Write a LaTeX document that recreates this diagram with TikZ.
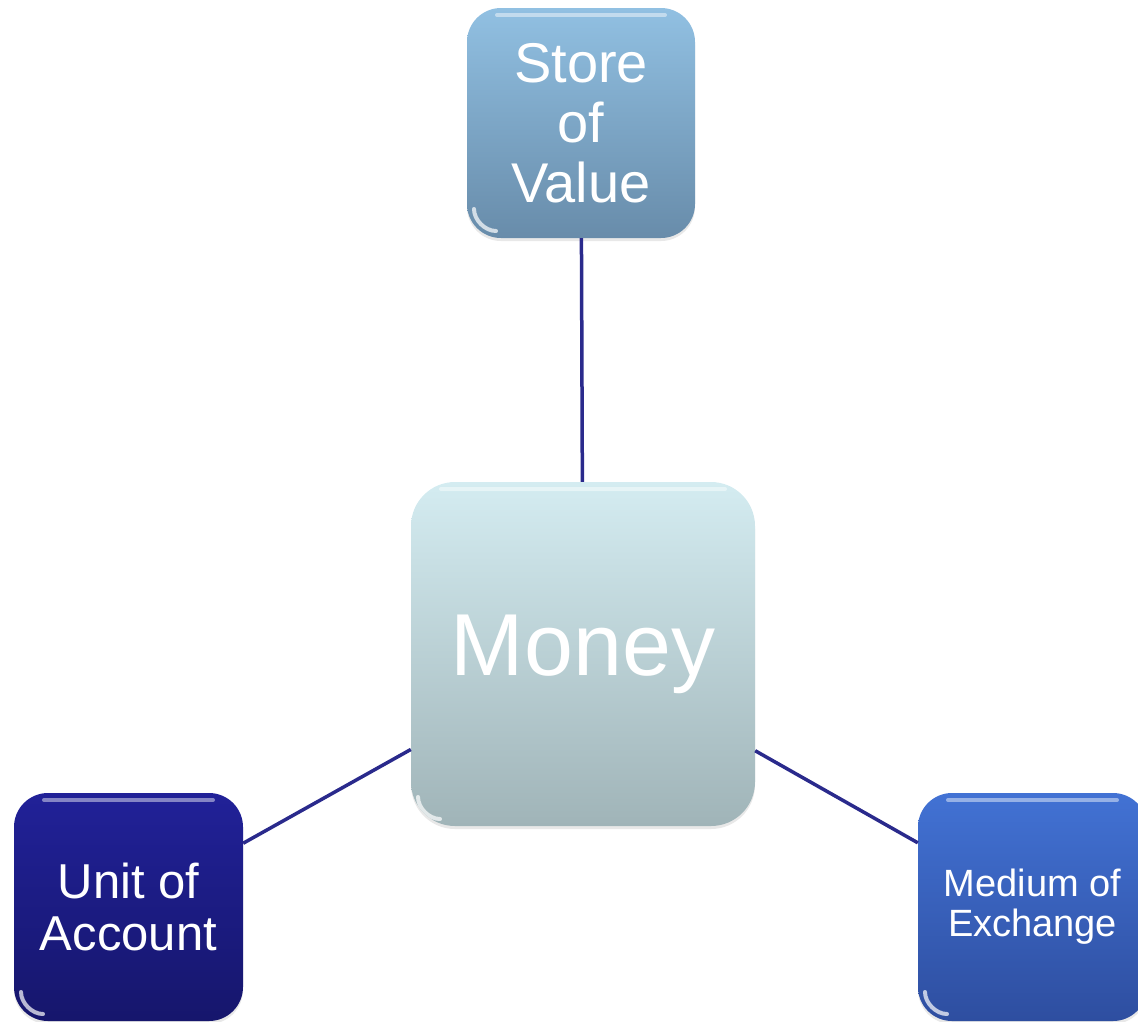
\documentclass[tikz,border=0pt]{standalone}
\usepackage{fontspec}
\setmainfont{Liberation Sans}
\usetikzlibrary{shadows}

\definecolor{storeTop}{RGB}{145,192,226}
\definecolor{storeBot}{RGB}{104,140,170}
\definecolor{moneyTop}{RGB}{212,236,241}
\definecolor{moneyBot}{RGB}{160,180,184}
\definecolor{unitTop}{RGB}{33,33,152}
\definecolor{unitBot}{RGB}{22,22,108}
\definecolor{mediumTop}{RGB}{66,114,212}
\definecolor{mediumBot}{RGB}{46,78,160}
\definecolor{linkCol}{RGB}{42,42,140}

\tikzset{
  glossbox/.style={
    rectangle, rounded corners=34pt, draw=none, text=white, align=center,
    inner sep=0pt, shading=axis,
    drop shadow={opacity=0.18, shadow xshift=0pt, shadow yshift=-3pt},
    path picture={
      % glossy band along the top edge
      \draw[white, opacity=0.45, line width=4pt, line cap=round]
        ([xshift=30pt,yshift=-7pt]path picture bounding box.north west) --
        ([xshift=-30pt,yshift=-7pt]path picture bounding box.north east);
      % light sheen following the lower left corner
      \draw[white, opacity=0.7, line width=4pt, line cap=round]
        ([xshift=7pt,yshift=29pt]path picture bounding box.south west)
        .. controls ([xshift=7pt,yshift=18pt]path picture bounding box.south west)
        and ([xshift=18pt,yshift=7pt]path picture bounding box.south west)
        .. ([xshift=29pt,yshift=7pt]path picture bounding box.south west);
    }
  },
  link/.style={draw=linkCol, line width=3.5pt}
}

\begin{document}
\begin{tikzpicture}[x=1pt, y=-1pt]
  \useasboundingbox (0,0) rectangle (1138,1021);

  \node[glossbox, minimum width=228pt, minimum height=230pt,
        top color=storeTop, bottom color=storeBot,
        font=\fontsize{56}{60}\selectfont]
    (store) at (581,123) {Store\\of\\Value};

  \node[glossbox, rounded corners=44pt, minimum width=344pt, minimum height=344pt,
        top color=moneyTop, bottom color=moneyBot,
        font=\fontsize{88}{96}\selectfont]
    (money) at (583,654) {Money};

  \node[glossbox, minimum width=229pt, minimum height=228pt,
        top color=unitTop, bottom color=unitBot,
        font=\fontsize{49}{52}\selectfont]
    (unit) at (128.5,907) {Unit of\\Account};

  \node[glossbox, minimum width=229pt, minimum height=228pt,
        top color=mediumTop, bottom color=mediumBot,
        font=\fontsize{38}{40}\selectfont]
    (medium) at (1032.5,907) {Medium of\\Exchange};

  \draw[link] (store) -- (money);
  \draw[link] (money) -- (unit);
  \draw[link] (money) -- (medium);
\end{tikzpicture}
\end{document}
